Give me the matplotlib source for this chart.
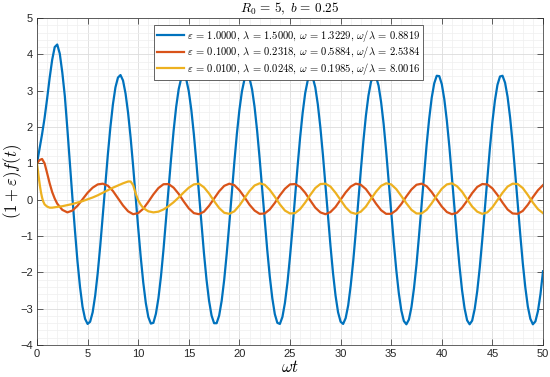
import numpy as np
import matplotlib
matplotlib.use("Agg")
import matplotlib.pyplot as plt
from matplotlib.ticker import MultipleLocator

plt.rcParams['mathtext.fontset'] = 'cm'
plt.rcParams['font.family'] = ['Liberation Sans', 'DejaVu Sans']

# legend labels for the three runs
labels = [
    r'$\varepsilon \,=\, 1.0000,\, \lambda \,=\, 1.5000,\, \omega \,=\, 1.3229,\, \omega/\lambda \,=\, 0.8819$',
    r'$\varepsilon \,=\, 0.1000,\, \lambda \,=\, 0.2318,\, \omega \,=\, 0.5884,\, \omega/\lambda \,=\, 2.5384$',
    r'$\varepsilon \,=\, 0.0100,\, \lambda \,=\, 0.0248,\, \omega \,=\, 0.1985,\, \omega/\lambda \,=\, 8.0016$',
]

# ---- blue curve, read every 0.25 in omega*t ----
t_blue = np.arange(0, 50.001, 0.25)
y_blue = [
    1.0, 1.4, 1.8, 2.25, 2.78, 3.35, 3.85, 4.2, 4.27, 4.02, 3.5, 2.85, 1.95, 1.0, 0.05,
    -0.85, -1.7, -2.4, -2.95, -3.28, -3.42,
    # 5.25 - 11.25
    -3.36, -3.10, -2.64, -2.02, -1.27, -0.44, 0.41, 1.24, 1.99, 2.62, 3.09, 3.36, 3.43,
    3.28, 2.92, 2.39, 1.71, 0.92, 0.07, -0.78, -1.58, -2.28, -2.84, -3.23, -3.41,
    # 11.5 - 17.5
    -3.39, -3.14, -2.71, -2.11, -1.37, -0.55, 0.30, 1.13, 1.90, 2.55, 3.04, 3.34, 3.43,
    3.31, 2.98, 2.47, 1.80, 1.02, 0.19, -0.67, -1.48, -2.20, -2.78, -3.19, -3.40,
    # 17.75 - 23.75
    -3.40, -3.19, -2.78, -2.20, -1.48, -0.67, 0.19, 1.03, 1.81, 2.47, 2.98, 3.31, 3.43,
    3.34, 3.04, 2.55, 1.90, 1.13, 0.30, -0.56, -1.38, -2.11, -2.71, -3.15, -3.39,
    # 24.0 - 30.0
    -3.42, -3.23, -2.84, -2.28, -1.57, -0.78, 0.08, 0.92, 1.71, 2.39, 2.93, 3.28, 3.43,
    3.36, 3.09, 2.62, 1.99, 1.24, 0.41, -0.45, -1.27, -2.02, -2.64, -3.10, -3.36,
    # 30.25 - 36.25
    -3.42, -3.26, -2.91, -2.36, -1.68, -0.89, -0.04, 0.81, 1.61, 2.31, 2.86, 3.24, 3.42,
    3.38, 3.14, 2.69, 2.09, 1.34, 0.52, -0.33, -1.17, -1.93, -2.57, -3.05, -3.34,
    # 36.5 - 42.5
    -3.43, -3.30, -2.96, -2.44, -1.78, -0.99, -0.15, 0.70, 1.51, 2.22, 2.80, 3.20, 3.41,
    3.40, 3.18, 2.76, 2.17, 1.45, 0.63, -0.22, -1.06, -1.83, -2.49, -2.99, -3.32,
    # 42.75 - 49.0
    -3.43, -3.33, -3.01, -2.52, -1.87, -1.10, -0.27, 0.59, 1.41, 2.14, 2.73, 3.16, 3.39,
    3.41, 3.22, 2.83, 2.26, 1.55, 0.74, -0.11, -0.95, -1.74, -2.41, -2.94, -3.28, -3.43,
    # 49.25 - 50
    -3.35, -3.07, -2.60, -1.97,
]

# ---- orange curve ----
t_orange = np.concatenate([
    [0, 0.25, 0.5, 0.75, 1.0, 1.25, 1.5, 1.75, 2.0, 2.5, 3.0, 3.5, 4.0, 4.5, 5.0, 5.5, 6.0],
    np.arange(6.5, 50.001, 0.5),
])
y_orange = [
    1.0, 1.09, 1.12, 1.0, 0.73, 0.45, 0.21, 0.03, -0.11, -0.28, -0.35, -0.3, -0.17, 0.01,
    0.19, 0.33, 0.42,
    0.44, 0.385, 0.24, 0.04, -0.16, -0.32, -0.40, -0.37, -0.25, -0.06, 0.145, 0.32, 0.425,
    0.43, 0.33, 0.16, -0.05, -0.24, -0.37, -0.40, -0.33, -0.17, 0.03, 0.23, 0.38, 0.44,
    0.40, 0.26, 0.07, -0.14, -0.30, -0.39, -0.38, -0.27, -0.09, 0.12, 0.30, 0.42,
    0.43, 0.35, 0.19, -0.02, -0.22, -0.35, -0.40, -0.34, -0.20, 0.0, 0.2, 0.36, 0.44,
    0.41, 0.29, 0.1, -0.11, -0.29, -0.39, -0.39, -0.29, -0.12, 0.09, 0.28, 0.41, 0.44,
    0.37, 0.21, 0.01, -0.19, -0.34, -0.40, -0.36, -0.22, -0.03, 0.18, 0.35, 0.43,
    0.42, 0.31, 0.13, -0.08, -0.27, -0.38, -0.39, -0.31, -0.14, 0.07, 0.26, 0.40,
]

# ---- yellow curve ----
t_yellow = np.concatenate([
    [0, 0.1, 0.2, 0.3, 0.4, 0.5, 0.6, 0.75, 1.0, 1.25, 1.5],
    [2.0, 2.5, 3.0, 3.5, 4.0, 4.5, 5.0, 5.5, 6.0, 6.5, 7.0, 7.5, 8.0, 8.5, 9.0],
    [9.25, 9.5, 9.75, 10.0, 10.25, 10.5],
    np.arange(11.0, 50.001, 0.5),
])
y_yellow = [
    1.0, 0.78, 0.56, 0.36, 0.19, 0.06, -0.04, -0.13, -0.19, -0.22, -0.22,
    -0.2, -0.18, -0.15, -0.12, -0.08, -0.04, 0.01, 0.06, 0.12, 0.19, 0.26, 0.33, 0.39, 0.45, 0.5,
    0.5, 0.4, 0.17, -0.02, -0.14, -0.23,
    -0.32, -0.35, -0.33, -0.27, -0.18, -0.07, 0.06, 0.2, 0.33, 0.42,
    0.44, 0.34, 0.17, -0.04, -0.23, -0.36, -0.39, -0.32, -0.16, 0.04,
    0.24, 0.39, 0.45, 0.41, 0.27, 0.08, -0.13, -0.30, -0.38, -0.37,
    -0.26, -0.08, 0.13, 0.32, 0.43, 0.44, 0.36, 0.19, -0.01, -0.21,
    -0.35, -0.39, -0.33, -0.19, 0.02, 0.22, 0.38, 0.45, 0.42, 0.29,
    0.10, -0.10, -0.28, -0.38, -0.38, -0.28, -0.10, 0.11, 0.30, 0.42,
    0.45, 0.37, 0.22, 0.01, -0.19, -0.33, -0.39, -0.35, -0.21, -0.01,
    0.19, 0.36, 0.44, 0.43, 0.32, 0.13, -0.08, -0.26, -0.37,
]

colors = ['#0072BD', '#D95319', '#EDB120']

fig = plt.figure(figsize=(5.5, 3.77), dpi=100)
ax = fig.add_axes([37 / 550, 1 - 345 / 377, 506 / 550, 327 / 377])

ax.plot(t_blue, y_blue, color=colors[0], lw=1.6, label=labels[0])
ax.plot(t_orange, y_orange, color=colors[1], lw=1.6, label=labels[1])
ax.plot(t_yellow, y_yellow, color=colors[2], lw=1.6, label=labels[2])

ax.set_xlim(0, 50)
ax.set_ylim(-4, 5)
ax.xaxis.set_major_locator(MultipleLocator(5))
ax.xaxis.set_minor_locator(MultipleLocator(1))
ax.yaxis.set_major_locator(MultipleLocator(1))
ax.yaxis.set_minor_locator(MultipleLocator(0.2))

ax.grid(True, which='major', color='#dcdcdc', lw=0.6)
ax.grid(True, which='minor', color='#efefef', lw=0.5)
ax.set_axisbelow(True)

ax.tick_params(which='both', direction='in', top=True, right=True,
               colors='#262626', labelsize=8, width=0.5)
ax.tick_params(which='major', length=4, pad=3)
ax.tick_params(which='minor', length=0)
for s in ax.spines.values():
    s.set_color('#262626')
    s.set_linewidth(0.5)

ax.set_title(r'$R_0 \,=\, 5,\; b \,=\, 0.25$', fontsize=9.5, pad=4)
ax.set_xlabel(r'$\omega t$', fontsize=12)
ax.set_ylabel(r'$(1+\varepsilon)f(t)$', fontsize=12)
ax.xaxis.set_label_coords(0.5, -0.042)
ax.yaxis.set_label_coords(-0.026, 0.5)

leg = ax.legend(loc='upper left', bbox_to_anchor=(154 / 550, 1 - 25 / 377),
                bbox_transform=fig.transFigure, fontsize=7.6, fancybox=False,
                framealpha=1, edgecolor='#262626', borderpad=0.3, labelspacing=0.02,
                handlelength=2.5, handletextpad=0.3, borderaxespad=0)
leg.get_frame().set_linewidth(0.5)

fig.savefig('out.png', dpi=100)
